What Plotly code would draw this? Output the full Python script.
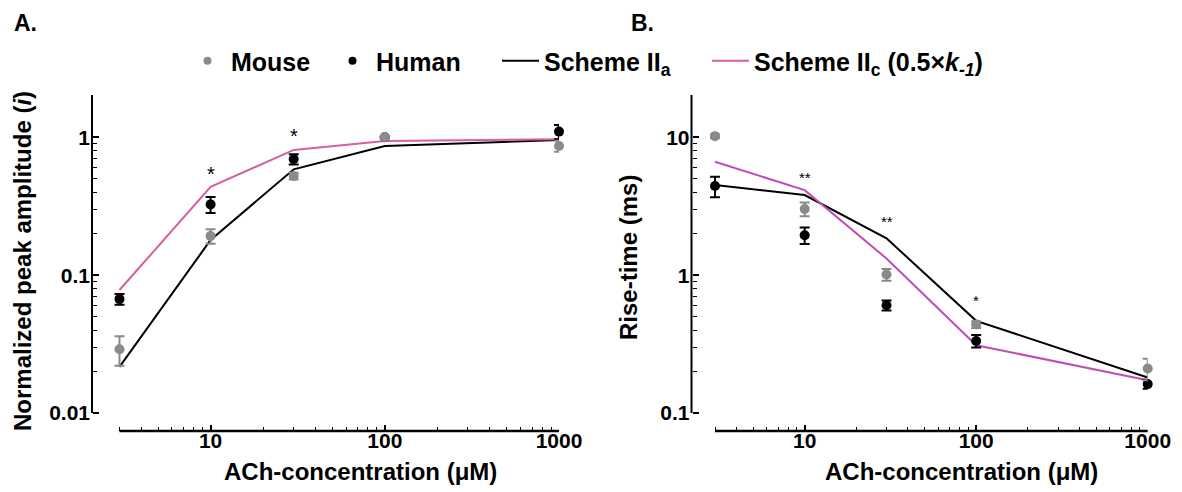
import math
import plotly.graph_objects as go

# ---------------- data ----------------
conc = [3, 10, 30, 100, 1000]

# Panel A: normalized peak amplitude
amp_mouse = [0.029, 0.192, 0.524, 1.0, 0.865]
amp_mouse_err = [0.007, 0.023, 0.03, 0.01, 0.08]
amp_human = [0.067, 0.326, 0.695, 1.0, 1.10]
amp_human_err = [0.006, 0.043, 0.06, 0.01, 0.13]
amp_scheme_a = [0.0216, 0.18, 0.586, 0.865, 0.955]
amp_scheme_c = [0.078, 0.437, 0.81, 0.94, 0.97]
amp_sig_x = [10, 30]
amp_sig_y = [0.569, 1.07]
amp_sig_txt = ["*", "*"]

# Panel B: rise-time (ms)
rt_mouse = [10.2, 3.02, 1.01, 0.438, 0.21]
rt_mouse_err = [0.3, 0.35, 0.1, 0.025, 0.037]
rt_human = [4.43, 1.95, 0.605, 0.333, 0.162]
rt_human_err = [0.75, 0.27, 0.05, 0.035, 0.012]
rt_scheme_a = [4.5, 3.81, 1.85, 0.466, 0.181]
rt_scheme_c = [6.65, 4.14, 1.32, 0.31, 0.173]
rt_sig_x = [10, 30, 100]
rt_sig_y = [5.24, 2.51, 0.67]
rt_sig_txt = ["**", "**", "*"]

x_tickvals = [10, 100, 1000]
x_ticktext = ["10", "100", "1000"]
amp_tickvals = [0.01, 0.1, 1]
amp_ticktext = ["0.01", "0.1", "1"]
rt_tickvals = [0.1, 1, 10]
rt_ticktext = ["0.1", "1", "10"]

# ---------------- style ----------------
GRAY = "#8a8a8a"
BLACK = "#000000"
PINK_A = "#d4609f"
PINK_B = "#c04db4"
FONT = "Liberation Sans"

W, H = 1182, 492
DECADE = 137.7          # px per decade on the y axes
GAP = 18                # px between bottom of y-axis line and the x-axis line
X_AXIS_Y = 431
PANELS_X = [(119.5, 559), (715, 1147.7)]   # extent of the drawn x-axis lines
Y_AXIS_X = [92, 691.5]
PAD = 9                 # extra room left of x=3 so error-bar caps are not clipped
X_MIN, X_MAX = math.log10(3), 3.0


def px_x(p):
    return p / W


def px_y(p):
    return (H - p) / H


fig = go.Figure()


def add_panel(xa, ya, mouse, mouse_err, human, human_err, sa, sc, pink):
    fig.add_trace(go.Scatter(x=conc, y=sa, mode="lines", line=dict(color=BLACK, width=2),
                             xaxis=xa, yaxis=ya, showlegend=False))
    fig.add_trace(go.Scatter(x=conc, y=sc, mode="lines", line=dict(color=pink, width=2),
                             xaxis=xa, yaxis=ya, showlegend=False))
    fig.add_trace(go.Scatter(x=conc, y=human, mode="markers",
                             marker=dict(color=BLACK, size=10),
                             error_y=dict(type="data", array=human_err, color=BLACK,
                                          thickness=2, width=5),
                             cliponaxis=False, xaxis=xa, yaxis=ya, showlegend=False))
    fig.add_trace(go.Scatter(x=conc, y=mouse, mode="markers",
                             marker=dict(color=GRAY, size=10),
                             error_y=dict(type="data", array=mouse_err, color=GRAY,
                                          thickness=2, width=5),
                             cliponaxis=False, xaxis=xa, yaxis=ya, showlegend=False))


add_panel("x", "y", amp_mouse, amp_mouse_err, amp_human, amp_human_err,
          amp_scheme_a, amp_scheme_c, PINK_A)
add_panel("x2", "y2", rt_mouse, rt_mouse_err, rt_human, rt_human_err,
          rt_scheme_a, rt_scheme_c, PINK_B)

# legend-only traces
fig.add_trace(go.Scatter(x=[None], y=[None], mode="markers", name="Mouse",
                         marker=dict(color=GRAY, size=8), legendwidth=93))
fig.add_trace(go.Scatter(x=[None], y=[None], mode="markers", name="Human",
                         marker=dict(color=BLACK, size=8), legendwidth=116))
fig.add_trace(go.Scatter(x=[None], y=[None], mode="lines", name="Scheme II<sub>a</sub>",
                         line=dict(color=BLACK, width=2), legendwidth=158))
fig.add_trace(go.Scatter(x=[None], y=[None], mode="lines",
                         name="Scheme II<sub>c</sub> (0.5×<i>k</i><sub><i>-1</i></sub>)",
                         line=dict(color=PINK_A, width=2)))

minor_x = [v * m for m in (1, 10, 100) for v in range(2, 10) if 3 <= v * m < 1000]
minor_amp = [v * m for m in (0.01, 0.1, 1) for v in range(2, 10)]
minor_rt = [v * m for m in (0.1, 1, 10) for v in range(2, 10)]

tickfont = dict(family=FONT, size=21, color=BLACK, weight="bold")

xcommon = dict(type="log", showline=False,
               ticks="inside", ticklen=6, tickwidth=1.5,
               tickcolor=BLACK, tickmode="array", tickvals=x_tickvals, ticktext=x_ticktext,
               tickfont=tickfont, showgrid=False, zeroline=False, ticklabelstandoff=-5,
               minor=dict(ticks="inside", ticklen=4, tickwidth=1.2, tickcolor=BLACK,
                          tickvals=minor_x, showgrid=False))


def x_axis(idx, anchor):
    x0, x1 = PANELS_X[idx]
    px_per_dec = (x1 - x0) / (X_MAX - X_MIN)
    return dict(**xcommon, anchor=anchor,
                domain=[px_x(x0 - PAD), px_x(x1)],
                range=[X_MIN - PAD / px_per_dec, X_MAX])


ycommon = dict(type="log", anchor="free", showline=False,
               ticks="inside", ticklen=6, tickwidth=1.5, tickcolor=BLACK,
               tickmode="array", tickfont=tickfont, showgrid=False, zeroline=False,
               domain=[px_y(X_AXIS_Y), px_y(95)], ticklabelstandoff=2)

fig.update_layout(
    width=W, height=H,
    margin=dict(l=0, r=0, t=0, b=0, autoexpand=False),
    paper_bgcolor="white", plot_bgcolor="rgba(0,0,0,0)",
    font=dict(family=FONT, color=BLACK),
    xaxis=x_axis(0, "y"),
    xaxis2=x_axis(1, "y2"),
    yaxis=dict(**ycommon, position=px_x(Y_AXIS_X[0]), range=[-2.0 - GAP / DECADE, 0.307],
               tickvals=amp_tickvals + [10 ** 0.307], ticktext=amp_ticktext + [""],
               minor=dict(ticks="inside", ticklen=4, tickwidth=1.2, tickcolor=BLACK,
                          tickvals=minor_amp, showgrid=False)),
    yaxis2=dict(**ycommon, position=px_x(Y_AXIS_X[1]), range=[-1.0 - GAP / DECADE, 1.307],
                tickvals=rt_tickvals + [10 ** 1.307], ticktext=rt_ticktext + [""],
                minor=dict(ticks="inside", ticklen=4, tickwidth=1.2, tickcolor=BLACK,
                           tickvals=minor_rt, showgrid=False)),
    showlegend=True,
    legend=dict(orientation="h", x=px_x(184), y=px_y(61), xanchor="left", yanchor="middle",
                font=dict(family=FONT, size=25, color=BLACK, weight="bold"),
                itemwidth=37, bgcolor="rgba(0,0,0,0)", traceorder="normal"),
)

# axis lines: y lines stop at the lowest decade, leaving a gap above the x axis
for xpos in Y_AXIS_X:
    fig.add_shape(type="line", xref="paper", yref="paper", x0=px_x(xpos), x1=px_x(xpos),
                  y0=px_y(X_AXIS_Y - GAP), y1=px_y(95), line=dict(color=BLACK, width=2))
for x0, x1 in PANELS_X:
    fig.add_shape(type="line", xref="paper", yref="paper", x0=px_x(x0), x1=px_x(x1),
                  y0=px_y(X_AXIS_Y), y1=px_y(X_AXIS_Y), line=dict(color=BLACK, width=2.5))

ann = []
for xv, yv, t in zip(amp_sig_x, amp_sig_y, amp_sig_txt):
    ann.append(dict(x=math.log10(xv), y=math.log10(yv), xref="x", yref="y", text=t,
                    showarrow=False, xanchor="center", yanchor="middle", yshift=-3,
                    font=dict(family=FONT, size=20, color=BLACK)))
for xv, yv, t in zip(rt_sig_x, rt_sig_y, rt_sig_txt):
    ann.append(dict(x=math.log10(xv), y=math.log10(yv), xref="x2", yref="y2", text=t,
                    showarrow=False, xanchor="center", yanchor="middle", yshift=-1,
                    font=dict(family=FONT, size=15, color=BLACK)))

title_font = dict(family=FONT, size=24, color=BLACK, weight="bold")
label_font = dict(family=FONT, size=23, color=BLACK, weight="bold")
common_ann = dict(xref="paper", yref="paper", showarrow=False, xanchor="center",
                  yanchor="middle")
ann += [
    dict(**common_ann, x=px_x(25), y=px_y(23), text="A.", font=label_font),
    dict(**common_ann, x=px_x(642), y=px_y(23), text="B.", font=label_font),
    dict(**common_ann, x=px_x(22), y=px_y(261), textangle=-90,
         text="Normalized peak amplitude (<i>i</i>)", font=title_font),
    dict(**common_ann, x=px_x(628), y=px_y(258), textangle=-90,
         text="Rise-time (ms)", font=title_font),
    dict(**common_ann, x=px_x(360), y=px_y(471), text="ACh-concentration (μM)",
         font=title_font),
    dict(**common_ann, x=px_x(961), y=px_y(471), text="ACh-concentration (μM)",
         font=title_font),
]
fig.update_layout(annotations=ann)

fig.write_html("out.html")
